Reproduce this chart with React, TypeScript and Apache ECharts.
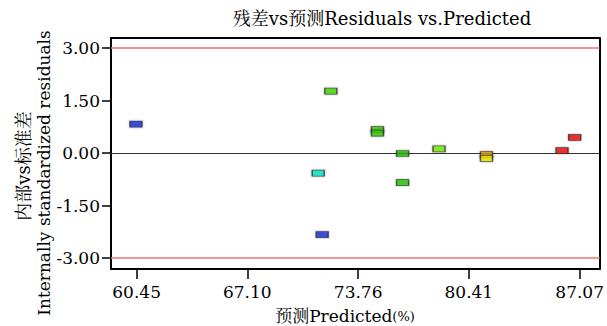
import React, { useEffect, useRef } from "react";
import * as echarts from "echarts";

const predicted = [60.41, 72.12, 74.92, 74.92, 76.43, 78.62, 81.47, 81.47, 86.01, 86.77, 71.36, 71.6, 76.43];
const residuals = [0.83, 1.77, 0.67, 0.57, -0.01, 0.12, -0.04, -0.15, 0.07, 0.45, -0.57, -2.33, -0.84];
const pointColors = ["#1a2fe0", "#44dd00", "#33cc00", "#33cc00", "#22bb00", "#77ee00", "#dd9900", "#e6e600", "#ee1111", "#ee1111", "#00e8c8", "#1a2fe0", "#22cc00"];
const xTicks = [60.45, 67.1, 73.76, 80.41, 87.07];
const yTicks = [-3, -1.5, 0, 1.5, 3];
const limits = [3, -3];

const FONT = "'DejaVu Serif', 'Noto Serif CJK SC', 'Noto Sans CJK SC', serif";
const X_MIN = 58.91;
const X_MAX = 88.27;
const Y_MIN = -3.31;
const Y_MAX = 3.29;

export default function App() {
  const ref = useRef<HTMLDivElement>(null);
  useEffect(() => {
    const chart = echarts.init(ref.current!, null, { renderer: "svg" });
    const data = predicted.map((x, i) => ({
      value: [x, residuals[i]],
      itemStyle: { color: pointColors[i] },
    }));
    const frameLine = { show: true, onZero: false, lineStyle: { color: "#000", width: 2 } };
    chart.setOption({
      animation: false,
      textStyle: { fontFamily: FONT },
      grid: { left: 111, right: 7, top: 38, bottom: 57 },
      xAxis: [
        {
          type: "value",
          min: X_MIN,
          max: X_MAX,
          position: "bottom",
          splitLine: { show: false },
          axisLine: frameLine,
          axisTick: { show: true, customValues: xTicks, length: 10, lineStyle: { color: "#000", width: 1.5 } },
          axisLabel: {
            customValues: xTicks,
            formatter: (v: number) => v.toFixed(2),
            color: "#000",
            fontSize: 17,
            fontFamily: FONT,
            margin: 14,
          },
        },
        {
          type: "value",
          min: X_MIN,
          max: X_MAX,
          position: "top",
          splitLine: { show: false },
          axisLine: frameLine,
          axisTick: { show: false },
          axisLabel: { show: false },
        },
      ],
      yAxis: [
        {
          type: "value",
          min: Y_MIN,
          max: Y_MAX,
          position: "left",
          splitLine: { show: false },
          axisLine: frameLine,
          axisTick: { show: true, customValues: yTicks, length: 9, lineStyle: { color: "#000", width: 1.5 } },
          axisLabel: {
            customValues: yTicks,
            formatter: (v: number) => v.toFixed(2),
            color: "#000",
            fontSize: 17,
            fontFamily: FONT,
            margin: 11,
          },
        },
        {
          type: "value",
          min: Y_MIN,
          max: Y_MAX,
          position: "right",
          splitLine: { show: false },
          axisLine: frameLine,
          axisTick: { show: false },
          axisLabel: { show: false },
        },
      ],
      series: [
        {
          type: "scatter",
          xAxisIndex: 0,
          yAxisIndex: 0,
          symbol: "rect",
          symbolSize: [12, 6],
          data,
          itemStyle: { borderColor: "#333", borderWidth: 1, shadowBlur: 2, shadowColor: "rgba(0,0,0,0.4)" },
          markLine: {
            silent: true,
            symbol: "none",
            label: { show: false },
            data: [
              { yAxis: limits[0], lineStyle: { color: "#f07070", width: 1.5, type: "solid" } },
              { yAxis: limits[1], lineStyle: { color: "#f07070", width: 1.5, type: "solid" } },
              { yAxis: 0, lineStyle: { color: "#333", width: 1, type: "solid" } },
            ],
          },
          z: 5,
        },
      ],
      graphic: [
        {
          type: "text",
          x: 382,
          y: 18,
          style: { text: "残差vs预测Residuals vs.Predicted", font: `18px ${FONT}`, fill: "#000", align: "center", verticalAlign: "middle" },
        },
        {
          type: "text",
          x: 345,
          y: 316,
          style: {
            text: "{a|预测Predicted}{b|(%)}",
            fill: "#000",
            align: "center",
            verticalAlign: "middle",
            rich: {
              a: { fontSize: 17, fontFamily: FONT, fill: "#000" },
              b: { fontSize: 13, fontFamily: FONT, fill: "#000" },
            },
          },
        },
        {
          type: "text",
          x: 23,
          y: 166,
          rotation: Math.PI / 2,
          style: { text: "内部vs标准差", font: `18px ${FONT}`, fill: "#000", align: "center", verticalAlign: "middle" },
        },
        {
          type: "text",
          x: 44,
          y: 173,
          rotation: Math.PI / 2,
          style: { text: "Internally standardized residuals", font: `17px ${FONT}`, fill: "#000", align: "center", verticalAlign: "middle" },
        },
      ],
    });
    return () => chart.dispose();
  }, []);
  return <div ref={ref} style={{ position: "absolute", left: 0, top: 0, width: 607, height: 326, background: "#fff" }} />;
}
